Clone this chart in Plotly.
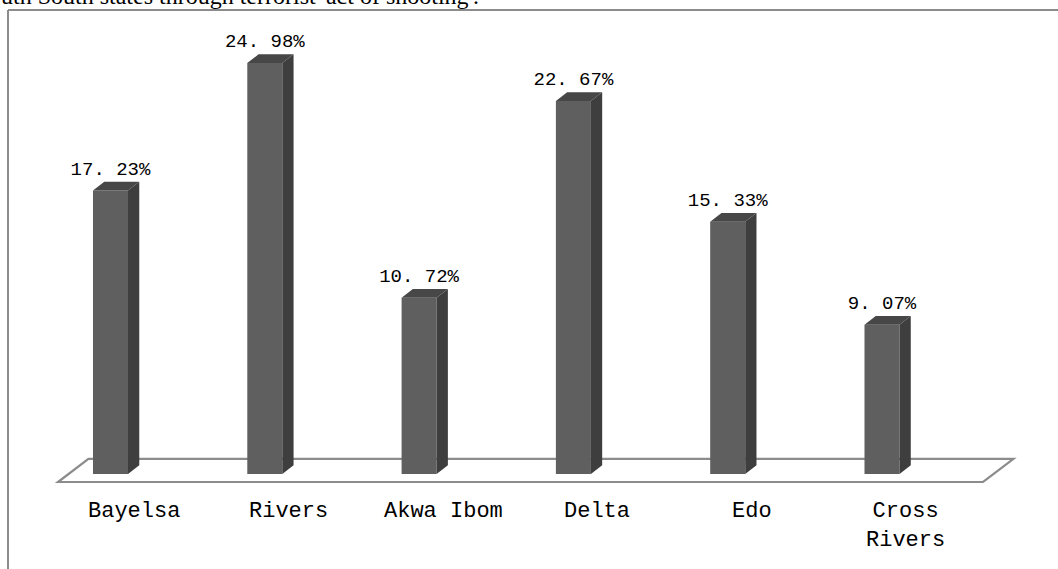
import plotly.graph_objects as go

categories = ["Bayelsa", "Rivers", "Akwa Ibom", "Delta", "Edo", "Cross<br>Rivers"]
values = [17.23, 24.98, 10.72, 22.67, 15.33, 9.07]
value_labels = ["17. 23%", "24. 98%", "10. 72%", "22. 67%", "15. 33%", "9. 07%"]
title_text = "uth South states through terrorist' act of shooting'."

FRONT = "#5f5f5f"
SIDE = "#3e3e3e"
TOP = "#474747"
EDGE = "#8c8c8c"

W = 0.227      # bar width (category units)
DX = 0.073     # depth offset x
DY = 0.53      # depth offset y (value units)

xs = list(range(len(categories)))

fig = go.Figure()

# front faces
fig.add_trace(go.Bar(x=xs, y=values, width=W, marker=dict(color=FRONT, line=dict(width=0)),
                     hoverinfo="skip", showlegend=False))

# side and top faces
for x, v in zip(xs, values):
    r = x + W / 2
    l = x - W / 2
    fig.add_trace(go.Scatter(x=[r, r + DX, r + DX, r, r], y=[0, DY, v + DY, v, 0],
                             mode="lines", fill="toself", fillcolor=SIDE,
                             line=dict(width=0), hoverinfo="skip", showlegend=False))
    fig.add_trace(go.Scatter(x=[l, r, r + DX, l + DX, l], y=[v, v, v + DY, v + DY, v],
                             mode="lines", fill="toself", fillcolor=TOP,
                             line=dict(width=0), hoverinfo="skip", showlegend=False))

# value labels
fig.add_trace(go.Scatter(x=xs, y=[v + DY + 0.15 for v in values], mode="text", text=value_labels,
                         textposition="top center",
                         textfont=dict(family="Liberation Mono", size=19, color="#000000"),
                         hoverinfo="skip", showlegend=False))

# category labels
for x, c in zip(xs, categories):
    fig.add_annotation(x=x + 0.155, y=-1.4, text=c, showarrow=False, xanchor="center",
                       yanchor="top", font=dict(family="Liberation Mono", size=22, color="#000000"))

# floor (parallelogram)
n = len(categories)
fl, fr = -0.34, (n - 1) + 0.655
fdx, fdy = 0.197, 1.40
fy = -0.486
floor_path = (f"M {fl},{fy} L {fr},{fy} L {fr + fdx},{fy + fdy} "
              f"L {fl + fdx},{fy + fdy} Z")
fig.add_shape(type="path", path=floor_path, xref="x", yref="y", layer="below",
              line=dict(color=EDGE, width=2.2), fillcolor="white")

# frame lines
fig.add_shape(type="line", xref="paper", yref="paper", x0=0, x1=0, y0=-0.05, y1=1,
              line=dict(color=EDGE, width=2))
fig.add_shape(type="line", xref="paper", yref="paper", x0=0, x1=1.05, y0=1, y1=1,
              line=dict(color=EDGE, width=2))

# clipped title text at the top (only its lower part is visible, as in the reference)
fig.add_annotation(xref="paper", yref="paper", x=-0.009, y=0.9985, xanchor="left", yanchor="bottom",
                   text=title_text, showarrow=False,
                   font=dict(family="Liberation Serif", size=24, color="#000000"))

fig.update_layout(
    width=1058, height=569,
    margin=dict(l=8, r=0, t=10, b=0),
    paper_bgcolor="white", plot_bgcolor="white",
    xaxis=dict(range=[-0.6643, 6.1406], visible=False, fixedrange=True),
    yaxis=dict(range=[-5.775, 28.207], visible=False, fixedrange=True),
    showlegend=False,
)

fig.write_html("out.html", config={"displayModeBar": False})
